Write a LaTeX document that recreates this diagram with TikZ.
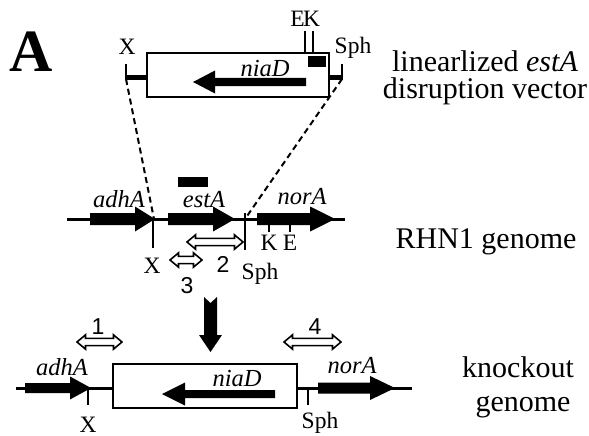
\documentclass[tikz,border=0pt]{standalone}
\usepackage{fontspec}
\setmainfont{Liberation Serif}
\newfontfamily\numfont{Liberation Sans}
\usetikzlibrary{shapes.arrows}
\newcommand{\generight}[6]{% x0, xhead, xtip, y, shaft half, head half
  \fill (#1,#4-#5) -- (#2,#4-#5) -- (#2,#4-#6) -- (#3,#4) -- (#2,#4+#6) -- (#2,#4+#5) -- (#1,#4+#5) -- cycle;}
\newcommand{\geneleft}[6]{% x0 (tail, right), xhead, xtip (left), y, shaft half, head half
  \fill (#1,#4-#5) -- (#2,#4-#5) -- (#2,#4-#6) -- (#3,#4) -- (#2,#4+#6) -- (#2,#4+#5) -- (#1,#4+#5) -- cycle;}
\tikzset{
  every node/.style={inner sep=0pt, outer sep=0pt},
  genelbl/.style={font=\fontsize{24.5}{24.5}\selectfont\itshape, anchor=base},
  sitelbl/.style={font=\fontsize{23.5}{23.5}\selectfont, anchor=base},
  numlbl/.style={font=\numfont\fontsize{23}{23}\selectfont, anchor=base},
  titlelbl/.style={font=\fontsize{30}{30}\selectfont, anchor=base},
  dna/.style={line width=3pt},
  boxline/.style={draw, line width=2.2pt},
  tick/.style={line width=2pt},
  fatend/.style={line width=5pt},
  dashconn/.style={line width=2pt, dash pattern=on 6pt off 4pt},
  pcr/.style={double arrow, draw, fill=white, line width=1.6pt, inner xsep=0pt, inner ysep=2.8pt,
    double arrow head extend=3.5pt, double arrow tip angle=80, minimum width=12pt},
}
\begin{document}
\begin{tikzpicture}[x=1pt, y=-1pt]
\useasboundingbox (0,0) rectangle (589,436);

% panel letter
\node[anchor=base, font=\fontsize{60}{60}\selectfont\bfseries] (A) at (31,72) {A};

% ---------- linearized vector ----------
\draw[boxline] (147,53) rectangle (329,97);
\coordinate (vL) at (126,79);
\coordinate (vR) at (342,79);
\draw[fatend] (126,78) -- (147,78);
\draw[tick] (126,64) -- (126,80);
\draw[fatend] (329,78) -- (342,78);
\draw[tick] (342,64) -- (342,80);
\draw[tick, line width=1.6pt] (305,31) -- (305,53);
\draw[tick, line width=1.6pt] (313,31) -- (313,53);
\fill (308,56) rectangle (326,67);
\geneleft{306}{215}{193}{82}{4}{11.5}
\node[genelbl] (niaDtop) at (265,77) {niaD};
\node[sitelbl] (Xtop) at (127,55) {X};
\node[sitelbl] (Sphtop) at (353,54) {Sph};
\node[sitelbl] (Etop) at (297.5,27) {E};
\node[sitelbl] (Ktop) at (311.5,27) {K};
\node[titlelbl] (vec1) at (485,71) {linearlized \textit{estA}};
\node[titlelbl] (vec2) at (485,99) {disruption vector};

% ---------- RHN1 genome ----------
\coordinate (gX) at (154,219);
\coordinate (gSph) at (245,219);
\draw[dna] (67,219) -- (345,219);
\generight{90}{135}{155}{219}{6}{12.5}
\generight{168}{213}{235}{219}{6}{12.5}
\generight{257}{310}{335}{219}{6}{12.5}
\fill (178,177) rectangle (208,187);
\draw[tick] (153,219) -- (153,248);
\draw[tick] (245,213) -- (245,250);
\draw[tick] (269,219) -- (269,232);
\draw[tick] (290,219) -- (290,232);
\draw[dashconn] (vL) -- (gX);
\draw[dashconn] (vR) -- (gSph);
\node[genelbl] (adhA1) at (119,207) {adhA};
\node[genelbl] (estA1) at (204,207) {estA};
\node[genelbl] (norA1) at (302,204) {norA};
\node[sitelbl] (X1) at (152,273) {X};
\node[sitelbl] (Sph1) at (260,279) {Sph};
\node[sitelbl] (K1) at (269,250) {K};
\node[sitelbl] (E1) at (290,250) {E};
\node[pcr, minimum height=56pt] (p2) at (215,242) {};
\node[pcr, minimum height=32pt] (p3) at (186,260) {};
\node[numlbl] (n2) at (223,272) {2};
\node[numlbl] (n3) at (187,293) {3};
\node[titlelbl] (rhn) at (486,248) {RHN1 genome};

% ---------- big arrow ----------
\fill (204,297) -- (210.5,303) -- (217,297) -- (217,335) -- (222,335) -- (210.5,352) -- (199,335) -- (204,335) -- cycle;

% ---------- knockout genome ----------
\draw[dna] (16,388) -- (113,388);
\draw[dna] (297,388) -- (412,388);
\draw[boxline] (113,364) rectangle (297,408);
\generight{25}{70}{91}{388}{5}{11.5}
\generight{318}{370}{395}{388}{5.5}{12}
\geneleft{275}{185}{162}{394}{4}{11.5}
\draw[tick] (88,388) -- (88,405);
\draw[tick] (308,388) -- (308,405);
\node[genelbl] (adhA2) at (62,375) {adhA};
\node[genelbl] (niaD2) at (237,386) {niaD};
\node[genelbl] (norA2) at (352,373) {norA};
\node[sitelbl] (X2) at (88,432) {X};
\node[sitelbl] (Sph2) at (320,428) {Sph};
\node[pcr, minimum height=45pt] (p1) at (99.5,342) {};
\node[pcr, minimum height=57pt] (p4) at (312.5,342) {};
\node[numlbl] (n1) at (98,334) {1};
\node[numlbl] (n4) at (315,334) {4};
\node[titlelbl] (ko1) at (518,377) {knockout};
\node[titlelbl] (ko2) at (523,411) {genome};
\end{tikzpicture}
\end{document}
